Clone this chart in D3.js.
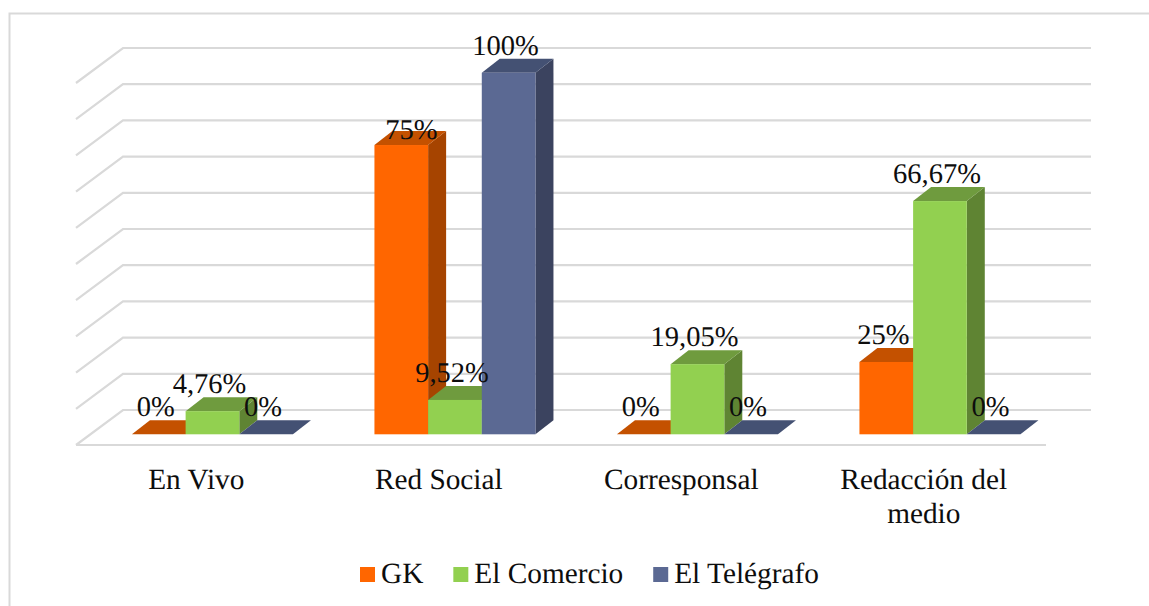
<!DOCTYPE html>
<html lang="es">
<head>
<meta charset="utf-8">
<script src="https://cdn.jsdelivr.net/npm/d3@7"></script>
<style>
html,body{margin:0;padding:0;background:#fff}
svg{display:block}
text{font-family:"Liberation Serif","Times New Roman",serif;fill:#0d0d0d;text-rendering:geometricPrecision}
</style>
</head>
<body>
<svg id="chart" width="1149" height="606"></svg>
<script>
const categories = [["En Vivo"], ["Red Social"], ["Corresponsal"], ["Redacción del", "medio"]];
const seriesNames = ["GK", "El Comercio", "El Telégrafo"];
// bar heights as drawn in the picture, in % of the axis
const gkHeights = [0, 80, 0, 20];
const comercioHeights = [6.4, 9.5, 19.4, 64.5];
const telegrafoHeights = [0, 100, 0, 0];
// data labels as printed in the picture
const gkLabels = ["0%", "75%", "0%", "25%"];
const comercioLabels = ["4,76%", "9,52%", "19,05%", "66,67%"];
const telegrafoLabels = ["0%", "100%", "0%", "0%"];
const frontColors = ["#ff6600", "#92d050", "#5b6993"];
const topColors = ["#c45100", "#6f9b3e", "#445173"];
const sideColors = ["#a64400", "#5f8433", "#3b435f"];

const heights = [gkHeights, comercioHeights, telegrafoHeights];
const labels = [gkLabels, comercioLabels, telegrafoLabels];
const svg = d3.select("#chart");
const gridColor = "#d9d9d9";
const labelSize = 28.5;
const textSize = 29.3;

// frame
svg.append("path")
  .attr("d", "M9.5,606V13.5H1149")
  .attr("fill", "none").attr("stroke", gridColor).attr("stroke-width", 2);

// scales
const catKeys = categories.map(c => c.join(" "));
const wallY = d3.scaleLinear().domain([0, 100]).range([410, 48]);
const barY = d3.scaleLinear().domain([0, 100]).range([434.3, 72.7]);
const floorX = d3.scaleBand().domain(catKeys).range([76, 1046]);
const groupX = d3.scaleBand().domain(catKeys).range([91.2, 1061.2])
  .paddingInner(0.336).paddingOuter(0.168);
const barX = d3.scaleBand().domain(seriesNames).range([0, groupX.bandwidth()]);

const wallDx = 47, wallDy = 35, barDx = 18, barDy = 14;

// walls and grid
const ticks = wallY.ticks(10);
const grid = svg.append("g").attr("fill", "none").attr("stroke", gridColor).attr("stroke-width", 2.2);
grid.selectAll("path").data(ticks).join("path")
  .attr("d", t => {
    const y = wallY(t);
    return `M${76},${y + wallDy}L${76 + wallDx},${y}H1091`;
  });
grid.append("path").attr("d", `M76,${wallY(0) + wallDy}H1046`);

// bars
const bars = svg.append("g");
catKeys.forEach((cat, ci) => {
  seriesNames.forEach((name, si) => {
    const x0 = groupX(cat) + barX(name);
    const x1 = x0 + barX.bandwidth();
    const yTop = barY(heights[si][ci]);
    const yBase = barY(0);
    const g = bars.append("g").attr("class", "bar");
    g.append("path").attr("fill", sideColors[si])
      .attr("d", `M${x1},${yBase}L${x1 + barDx},${yBase - barDy}V${yTop - barDy}L${x1},${yTop}Z`);
    g.append("path").attr("fill", topColors[si])
      .attr("d", `M${x0},${yTop}L${x0 + barDx},${yTop - barDy}H${x1 + barDx}L${x1},${yTop}Z`);
    g.append("rect").attr("fill", frontColors[si])
      .attr("x", x0).attr("y", yTop).attr("width", x1 - x0).attr("height", yBase - yTop);
  });
});

// data labels
const dataLabels = svg.append("g").attr("text-anchor", "middle").attr("font-size", labelSize);
catKeys.forEach((cat, ci) => {
  seriesNames.forEach((name, si) => {
    const cx = groupX(cat) + barX(name) + barX.bandwidth() / 2;
    const yTop = barY(heights[si][ci]);
    const moved = labels[si][ci] === "75%";   // this label was dragged by hand in the original
    dataLabels.append("text")
      .attr("x", cx + (moved ? 10 : -3))
      .attr("y", yTop - (moved ? 6 : 18))
      .text(labels[si][ci]);
  });
});

// category labels
const catText = svg.append("g").attr("text-anchor", "middle").attr("font-size", textSize);
categories.forEach((lines, ci) => {
  const t = catText.append("text").attr("y", 489);
  lines.forEach((line, li) => {
    t.append("tspan")
      .attr("x", floorX(catKeys[ci]) + floorX.bandwidth() / 2 - 1)
      .attr("y", 489 + li * 34)
      .text(line);
  });
});

// legend
const legend = svg.append("g").attr("font-size", textSize);
let lx = 360;
seriesNames.forEach((name, si) => {
  legend.append("rect").attr("x", lx).attr("y", 567).attr("width", 15).attr("height", 15)
    .attr("fill", frontColors[si]);
  const t = legend.append("text").attr("x", lx + 21).attr("y", 583).text(name);
  lx += 21 + t.node().getComputedTextLength() + 30;
});
</script>
</body>
</html>
